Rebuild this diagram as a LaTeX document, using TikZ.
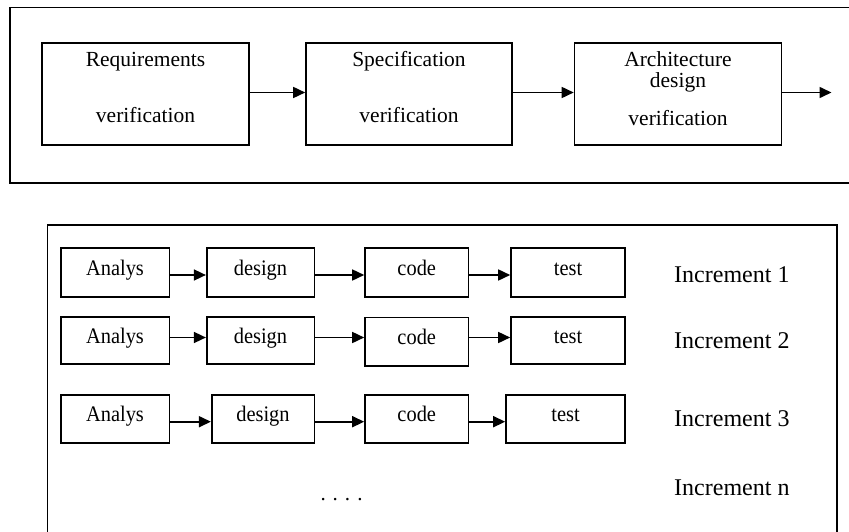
\documentclass[tikz,border=0pt]{standalone}
\usepackage{fontspec}
\setmainfont{Liberation Serif}
\newfontfamily\narrowserif[FakeStretch=0.92]{Liberation Serif}
\usetikzlibrary{arrows.meta}
\begin{document}
\begin{tikzpicture}[x=1pt,y=-1pt,
  frame/.style={line width=1.7pt},
  bx/.style 2 args={draw, line width=1.6pt, inner sep=0pt, minimum width=#1pt, minimum height=#2pt},
  toptxt/.style={font=\fontsize{21.5}{21}\selectfont, inner sep=0pt, align=center},
  bottxt/.style={font=\narrowserif\fontsize{22.2}{26}\selectfont, text height=0.8em, text depth=0.25em},
  inctxt/.style={font=\fontsize{24}{28}\selectfont, anchor=west, inner sep=0pt},
  arr/.style={line width=1.6pt, -{Triangle[length=12pt,width=11pt]}}]
\useasboundingbox (0,0) rectangle (849,532);

% frames
\draw[frame] (849,7.5) -- (10,7.5) -- (10,183) -- (849,183);
\draw[frame] (47.5,532) -- (47.5,225) -- (837,225) -- (837,532);

% top row
\node[bx={207}{102}] (b1) at (145.5,94) {};
\node[bx={206}{102}] (b2) at (409,94) {};
\node[bx={207}{102}] (b3) at (678,94) {};
\coordinate (outend) at (831.5,92.5);

\node[toptxt] (t1a) at (145.5,61.5) {Requirements};
\node[toptxt] (t1b) at (145.5,115.5) {verification};
\node[toptxt] (t2a) at (409,61.5) {Specification};
\node[toptxt] (t2b) at (409,115.5) {verification};
\node[toptxt] (t3a) at (678,71.5) {Architecture\\design};
\node[toptxt] (t3c) at (678,118.5) {verification};

\draw[arr] ([yshift=1.5pt]b1.east) -- ([yshift=1.5pt]b2.west);
\draw[arr] ([yshift=1.5pt]b2.east) -- ([yshift=1.5pt]b3.west);
\draw[arr] ([yshift=1.5pt]b3.east) -- (outend);

% increment 1
\node[bx={108.6}{49}, bottxt] (a1) at (115,272.5) {Analys};
\node[bx={107.6}{49}, bottxt] (d1) at (260.5,272.5) {design};
\node[bx={103.5}{49}, bottxt] (c1) at (416.75,272.5) {code};
\node[bx={114}{49}, bottxt] (s1) at (568,272.5) {test};
\draw[arr] ([yshift=-2.5pt]a1.east) -- ([yshift=-2.5pt]d1.west);
\draw[arr] ([yshift=-2.5pt]d1.east) -- ([yshift=-2.5pt]c1.west);
\draw[arr] ([yshift=-2.5pt]c1.east) -- ([yshift=-2.5pt]s1.west);

% increment 2
\node[bx={108.6}{47}, bottxt] (a2) at (115,340.5) {Analys};
\node[bx={107.6}{47}, bottxt] (d2) at (260.5,340.5) {design};
\node[bx={103.5}{48.5}, bottxt] (c2) at (416.75,341.75) {code};
\node[bx={114}{47}, bottxt] (s2) at (568,340.5) {test};
\draw[arr] ([yshift=3pt]a2.east) -- ([yshift=3pt]d2.west);
\draw[arr] ([yshift=3pt]d2.east) -- ([yshift=4.25pt]c2.west);
\draw[arr] ([yshift=4.25pt]c2.east) -- ([yshift=3pt]s2.west);

% increment 3
\node[bx={108.6}{48}, bottxt] (a3) at (115,419) {Analys};
\node[bx={102.6}{48}, bottxt] (d3) at (263,419) {design};
\node[bx={103.5}{48}, bottxt] (c3) at (416.75,419) {code};
\node[bx={119}{48}, bottxt] (s3) at (565.5,419) {test};
\draw[arr] ([yshift=-2.7pt]a3.east) -- ([yshift=-2.7pt]d3.west);
\draw[arr] ([yshift=-2.7pt]d3.east) -- ([yshift=-2.7pt]c3.west);
\draw[arr] ([yshift=-2.7pt]c3.east) -- ([yshift=-2.7pt]s3.west);

% increment labels
\node[inctxt] (i1) at (674,275) {Increment 1};
\node[inctxt] (i2) at (674,341) {Increment 2};
\node[inctxt] (i3) at (674,419) {Increment 3};
\node[inctxt] (in) at (674,488) {Increment n};

\node[font=\fontsize{21}{25}\selectfont, inner sep=0pt] (dots) at (341.5,500) {. . . .};
\end{tikzpicture}
\end{document}
